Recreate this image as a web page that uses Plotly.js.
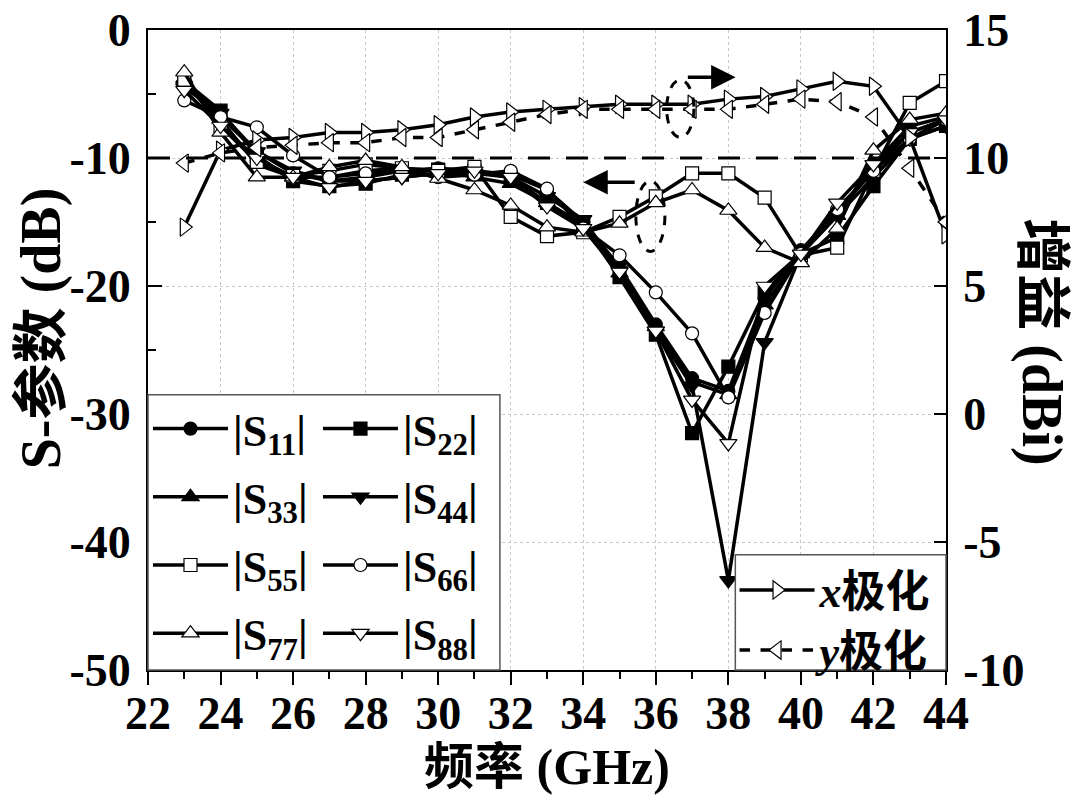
<!DOCTYPE html>
<html>
<head>
<meta charset="utf-8">
<script src="https://cdn.plot.ly/plotly-3.0.1.min.js"></script>
<style>html,body{margin:0;padding:0;background:#fff;}#chart{width:1080px;height:806px;}</style>
</head>
<body>
<div id="chart"></div>
<script>
// ---- data ----
const freq = [23,24,25,26,27,28,29,30,31,32,33,34,35,36,37,38,39,40,41,42,43,44];
const S11 = [-4.2,-6.8,-9.5,-11.2,-11.8,-11.5,-11.0,-10.8,-11.0,-11.3,-12.5,-15.0,-18.5,-23.0,-27.2,-28.2,-21.0,-17.2,-14.2,-11.0,-8.0,-7.0];
const S22 = [-4.0,-6.3,-9.8,-11.8,-12.2,-12.0,-11.3,-10.9,-11.0,-11.5,-13.5,-15.2,-19.3,-23.8,-31.5,-26.3,-20.5,-17.5,-16.2,-12.2,-8.5,-7.5];
const S33 = [-3.8,-7.0,-10.5,-11.5,-11.5,-11.0,-10.8,-11.0,-11.5,-12.0,-13.5,-15.5,-19.0,-23.2,-27.5,-28.5,-21.5,-17.5,-14.5,-10.5,-7.5,-6.8];
const S44 = [-4.5,-6.5,-9.5,-11.0,-11.8,-11.8,-11.5,-11.2,-11.2,-11.5,-13.0,-14.8,-18.8,-23.5,-27.8,-43.0,-24.4,-17.5,-14.5,-11.5,-8.5,-7.5];
const S55 = [-3.9,-7.5,-10.3,-11.4,-11.0,-10.5,-10.8,-11.0,-10.7,-14.6,-16.1,-15.8,-14.6,-13.0,-11.2,-11.2,-13.1,-17.6,-17.0,-11.0,-5.7,-4.0];
const S66 = [-5.5,-6.8,-7.6,-9.8,-11.5,-11.2,-11.0,-11.5,-11.3,-11.0,-12.4,-15.5,-17.6,-20.5,-23.7,-28.7,-22.1,-17.5,-14.0,-11.0,-8.5,-7.0];
const S77 = [-3.3,-8.0,-11.5,-11.5,-10.7,-10.2,-10.7,-11.6,-12.5,-13.7,-15.4,-15.8,-15.1,-13.5,-12.5,-14.1,-17.0,-18.2,-15.5,-9.4,-7.0,-6.5];
const S88 = [-4.7,-7.5,-10.0,-11.5,-12.3,-11.8,-11.5,-11.2,-11.0,-11.5,-13.8,-15.5,-18.9,-23.5,-28.9,-32.3,-20.0,-17.5,-13.5,-10.5,-8.0,-7.0];
const gainX = [7.3,10.3,10.7,10.8,11.0,11.0,11.1,11.3,11.6,11.8,11.9,12.0,12.1,12.1,12.1,12.3,12.4,12.7,13.0,12.8,10.8,7.0];
const gainY = [9.8,10.2,10.4,10.5,10.6,10.6,10.8,10.8,11.1,11.4,11.7,11.9,11.9,11.9,11.9,11.9,12.1,12.3,12.2,11.6,9.6,7.5];
const sNames = ['|S<sub>11</sub>|','|S<sub>22</sub>|','|S<sub>33</sub>|','|S<sub>44</sub>|','|S<sub>55</sub>|','|S<sub>66</sub>|','|S<sub>77</sub>|','|S<sub>88</sub>|'];
const gainNames = ['<i>x</i>极化','<i>y</i>极化'];
const xTicks = [22,24,26,28,30,32,34,36,38,40,42,44];
const yTicks = [0,-10,-20,-30,-40,-50];
const yTickText = ['0','-10','-20','-30','-40','-50'];
const y2Ticks = [15,10,5,0,-5,-10];
const y2TickText = ['15','10','5','0','-5','-10'];

// ---- styling ----
const SERIF = 'Liberation Serif, Times New Roman, Noto Sans CJK SC, serif';
const sSeries = [S11,S22,S33,S44,S55,S66,S77,S88];
const sSymbols = ['circle','square','triangle-up','triangle-down','square','circle','triangle-up','triangle-down'];
const sFilled = [true,true,true,true,false,false,false,false];
const sLegend = ['legend','legend2','legend','legend2','legend','legend2','legend','legend2'];

const traces = [];
traces.push({x:freq, y:gainX, yaxis:'y2', name:gainNames[0], mode:'lines+markers', legend:'legend3', legendgroup:'gx',
  line:{color:'#000', width:3.5}, marker:{symbol:'triangle-right', size:16, color:'#fff', line:{color:'#000', width:1.2}}});
traces.push({x:freq, y:gainY, yaxis:'y2', name:gainNames[1], mode:'lines+markers', legend:'legend3', legendgroup:'gy',
  line:{color:'#000', width:3.5, dash:'dash'}, marker:{symbol:'triangle-left', size:16, color:'#fff', line:{color:'#000', width:1.2}}});
sSeries.forEach((ys,i)=>{
  traces.push({x:freq, y:ys, name:sNames[i], mode:'lines+markers', legend:sLegend[i], legendgroup:'s'+i,
    line:{color:'#000', width:3.5},
    marker:{symbol:sSymbols[i], size:(sSymbols[i].indexOf('triangle')===0?15:13), color:sFilled[i]?'#000':'#fff', line:{color:'#000', width:1.2}}});
});

const legendCommon = {font:{family:SERIF, size:44, color:'#000', weight:'bold'}, bgcolor:'rgba(0,0,0,0)', borderwidth:0,
  itemwidth:75, tracegroupgap:8, xanchor:'left', yanchor:'top', itemclick:false, itemdoubleclick:false};

const tickFont = {family:SERIF, size:46, weight:'bold', color:'#000'};

const layout = {
  width:1080, height:806,
  margin:{l:148, r:134, t:30, b:136},
  paper_bgcolor:'#fff', plot_bgcolor:'#fff',
  font:{family:SERIF, color:'#000'},
  showlegend:true,
  xaxis:{range:[22,44], tickvals:xTicks, ticktext:xTicks.map(String), ticks:'outside', ticklen:13, tickwidth:2, tickcolor:'#000',
    minor:{dtick:1, tick0:22, ticks:'outside', ticklen:7, tickwidth:2, tickcolor:'#000', showgrid:false},
    showline:true, linewidth:2, linecolor:'#000', mirror:true,
    showgrid:true, gridcolor:'#c8c8c8', griddash:'dot', gridwidth:1, zeroline:false,
    tickfont:tickFont, ticklabelstandoff:-11,
    title:{text:'频率 (GHz)', font:{family:SERIF, size:50, weight:'bold'}, standoff:2}},
  yaxis:{range:[-50,0], tickvals:yTicks, ticktext:yTickText, ticks:'inside', ticklen:14, tickwidth:2, tickcolor:'#000',
    minor:{dtick:5, ticks:'inside', ticklen:8, tickwidth:2, tickcolor:'#000', showgrid:false},
    showline:true, linewidth:2, linecolor:'#000',
    showgrid:true, gridcolor:'#c8c8c8', griddash:'dot', gridwidth:1, zeroline:false,
    tickfont:tickFont, ticklabelstandoff:6},
  yaxis2:{range:[-10,15], tickvals:y2Ticks, ticktext:y2TickText, overlaying:'y', side:'right', ticks:'inside', ticklen:12, tickwidth:2, tickcolor:'#000',
    showline:true, linewidth:2, linecolor:'#000', showgrid:false, zeroline:false,
    tickfont:tickFont, ticklabelstandoff:6},
  legend: Object.assign({}, legendCommon, {x:0.0, y:0.432}),
  legend2: Object.assign({}, legendCommon, {x:0.213, y:0.432}),
  legend3: Object.assign({}, legendCommon, {x:0.735, y:0.18, tracegroupgap:0}),
  shapes:[
    {type:'line', xref:'x', yref:'y', x0:22, x1:44, y0:-10, y1:-10, line:{color:'#000', width:3, dash:'22px,16px'}},
    {type:'circle', xref:'x', yref:'y', x0:36.3, x1:37.05, y0:-8.4, y1:-3.9, line:{color:'#000', width:3, dash:'dash'}},
    {type:'circle', xref:'x', yref:'y', x0:35.45, x1:36.25, y0:-17.3, y1:-11.8, line:{color:'#000', width:3, dash:'dash'}},
    {type:'rect', xref:'paper', yref:'paper', x0:0, x1:0.441, y0:0, y1:0.43, fillcolor:'#fff', line:{color:'#555', width:1.5}, layer:'above'},
    {type:'rect', xref:'paper', yref:'paper', x0:0.736, x1:1, y0:0, y1:0.18, fillcolor:'#fff', line:{color:'#555', width:1.5}, layer:'above'}
  ],
  annotations:[
    {xref:'x', yref:'y', x:38.2, y:-3.7, ax:36.8, ay:-3.7, axref:'x', ayref:'y', showarrow:true, arrowhead:2, arrowsize:1.4, arrowwidth:3.5, arrowcolor:'#000', text:' '},
    {xref:'x', yref:'y', x:34.0, y:-11.9, ax:35.5, ay:-11.9, axref:'x', ayref:'y', showarrow:true, arrowhead:2, arrowsize:1.4, arrowwidth:3.5, arrowcolor:'#000', text:' '},
    {xref:'paper', yref:'paper', x:-0.134, y:0.534, xanchor:'center', yanchor:'middle', showarrow:false, textangle:-90,
      text:'S-参数 (dB)', font:{family:SERIF, size:56, weight:'bold', color:'#000'}},
    {xref:'paper', yref:'paper', x:1.12, y:0.5125, xanchor:'center', yanchor:'middle', showarrow:false, textangle:90,
      text:'增益 (dBi)', font:{family:SERIF, size:56, weight:'bold', color:'#000'}}
  ]
};

Plotly.newPlot('chart', traces, layout, {displayModeBar:false, staticPlot:true});
</script>
</body>
</html>
